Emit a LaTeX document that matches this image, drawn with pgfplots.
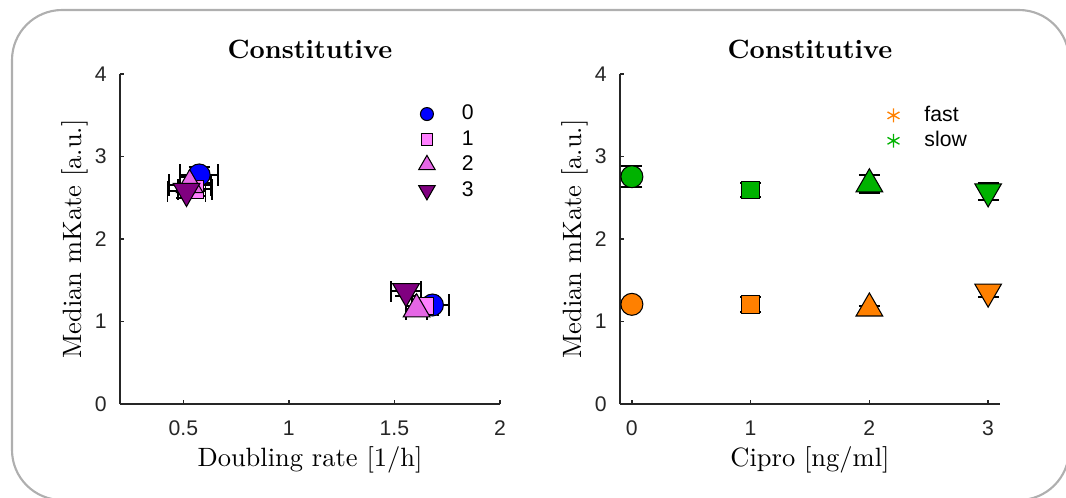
\documentclass[border=0pt]{standalone}
\usepackage{fontspec}
\usepackage{pgfplots}
\pgfplotsset{compat=1.18}
\newfontfamily\hv{Liberation Sans}
\definecolor{mlgray}{rgb}{0.15,0.15,0.15}
\definecolor{c0}{rgb}{0,0,1}
\definecolor{c1}{rgb}{1,0.5,1}
\definecolor{c2}{rgb}{0.9,0.4,0.9}
\definecolor{c3}{rgb}{0.5,0,0.5}
\definecolor{cfast}{rgb}{1,0.5,0}
\definecolor{cslow}{rgb}{0,0.7,0}
\definecolor{frame}{RGB}{175,175,175}

\pgfplotsset{
  panel/.style={
    scale only axis, width=143.45pt, height=124.6pt,
    axis lines*=left, axis line style={mlgray, line width=0.5pt},
    tick align=inside, major tick length=1.6pt,
    tick style={mlgray, line width=0.5pt},
    ymin=0, ymax=4, ytick={0,1,2,3,4},
    ticklabel style={font=\hv\footnotesize, text=mlgray},
    /pgf/number format/assume math mode=true,
    xticklabel style={anchor=base, yshift=-11.7pt},
    yticklabel style={anchor=east, inner sep=0pt, xshift=-4.8pt},
    title={Constitutive},
    every axis title shift=0pt,
    title style={font=\bfseries, at={(axis description cs:0.5,1.0455)}, anchor=base, yshift=0pt},
    ylabel={Median mKate [a.u.]},
    ylabel style={at={(axis description cs:-0.1025,0.5)}, anchor=base},
    xlabel style={at={(axis description cs:0.5,-0.188)}, anchor=base},
    legend style={draw=none, fill=none, inner sep=0pt, outer sep=0pt,
      font=\hv\footnotesize, text=black, row sep=2.6pt, legend cell align=left,
      nodes={inner sep=0pt, text height=6pt, text depth=1pt}},
  },
  dat/.style={only marks, draw=black, line width=0.4pt, fill=#1, forget plot,
    error bars/error bar style={black, line width=0.75pt},
    error bars/error mark options={black, line width=0.75pt, mark size=4pt, rotate=90}},
  circ/.style={mark=*, mark size=4.15pt},
  sq/.style={mark=square*, mark size=3.3pt},
  tup/.style={mark=triangle*, mark size=5.8pt},
  tdn/.style={mark=triangle*, mark size=5.8pt, mark options={rotate=180}},
}

\begin{document}
\begin{tikzpicture}
\begin{scope}[x=0.3775pt, y=-0.3775pt]
  \clip (0,0) rectangle (1066,497);
  \draw[frame, line width=0.8pt, rounded corners=18.9pt] (12,10) rectangle (1069,500);
\end{scope}

% left panel
\begin{axis}[panel, at={(120*0.3775pt,-404*0.3775pt)}, anchor=south west,
    xmin=0.2, xmax=2, xtick={0.5,1,1.5,2},
    xlabel={Doubling rate [1/h]},
    legend style={at={(axis description cs:0.786,0.909)}, anchor=north west},
    legend image code/.code={\path[draw=none, fill=none] (0,-2.5pt) rectangle (13.2pt,2.5pt);
      \draw[#1] plot coordinates {(0pt,-0.3pt)};},
  ]
  \addlegendimage{only marks, mark=*, mark size=2.45pt, draw=none, fill=c0}
  \addlegendentry{0}
  \addlegendimage{only marks, mark=square*, mark size=2.2pt, draw=none, fill=c1}
  \addlegendentry{1}
  \addlegendimage{only marks, mark=triangle*, mark size=3.6pt, draw=none, fill=c2}
  \addlegendentry{2}
  \addlegendimage{only marks, mark=triangle*, mark size=3.6pt, draw=none, fill=c3, mark options={rotate=180}}
  \addlegendentry{3}

  \addplot[dat=c0, circ, error bars/.cd, x dir=both, x explicit, y dir=both, y explicit]
    coordinates {(0.575,2.776) +- (0.09,0.10) (1.68,1.20) +- (0.08,0.05)};
  \addplot[dat=c1, sq, error bars/.cd, x dir=both, x explicit, y dir=both, y explicit]
    coordinates {(0.555,2.60) +- (0.08,0.08) (1.645,1.19) +- (0.06,0.05)};
  \addplot[dat=c2, tup, error bars/.cd, x dir=both, x explicit, y dir=both, y explicit]
    coordinates {(0.530,2.655) +- (0.10,0.10) (1.605,1.15) +- (0.05,0.04)};
  \addplot[dat=c3, tdn, error bars/.cd, x dir=both, x explicit, y dir=both, y explicit]
    coordinates {(0.515,2.58) +- (0.09,0.08) (1.555,1.365) +- (0.07,0.06)};
\end{axis}

% right panel
\begin{axis}[panel, at={(620*0.3775pt,-404*0.3775pt)}, anchor=south west,
    xmin=-0.1, xmax=3.1, xtick={0,1,2,3},
    xlabel={Cipro [ng/ml]},
    legend style={at={(axis description cs:0.704,0.905)}, anchor=north west},
    legend image code/.code={\path[draw=none, fill=none] (0,-2.5pt) rectangle (11.7pt,2.5pt);
      \draw[#1] plot coordinates {(0pt,-0.3pt)};},
  ]
  \addlegendimage{only marks, mark=asterisk, mark size=2.6pt, cfast, line width=0.5pt}
  \addlegendentry{fast}
  \addlegendimage{only marks, mark=asterisk, mark size=2.6pt, cslow, line width=0.5pt}
  \addlegendentry{slow}

  \addplot[dat=cslow, circ, error bars/.cd, y dir=both, y explicit]
    coordinates {(0,2.755) +- (0,0.125)};
  \addplot[dat=cfast, circ, error bars/.cd, y dir=both, y explicit]
    coordinates {(0,1.208) +- (0,0.03)};
  \addplot[dat=cslow, sq, error bars/.cd, y dir=both, y explicit]
    coordinates {(1,2.594) +- (0,0.085)};
  \addplot[dat=cfast, sq, error bars/.cd, y dir=both, y explicit]
    coordinates {(1,1.208) +- (0,0.09)};
  \addplot[dat=cslow, tup, error bars/.cd, y dir=both, y explicit]
    coordinates {(2,2.665) +- (0,0.11)};
  \addplot[dat=cfast, tup, error bars/.cd, y dir=both, y explicit]
    coordinates {(2,1.16) +- (0,0.03)};
  \addplot[dat=cslow, tdn, error bars/.cd, y dir=both, y explicit]
    coordinates {(3,2.575) +- (0,0.10)};
  \addplot[dat=cfast, tdn, error bars/.cd, y dir=both, y explicit]
    coordinates {(3,1.36) +- (0,0.06)};
\end{axis}

\begin{scope}[x=0.3775pt, y=-0.3775pt]
  \pgfresetboundingbox
  \path[use as bounding box] (0,0) rectangle (1066,497);
\end{scope}
\end{tikzpicture}
\end{document}
